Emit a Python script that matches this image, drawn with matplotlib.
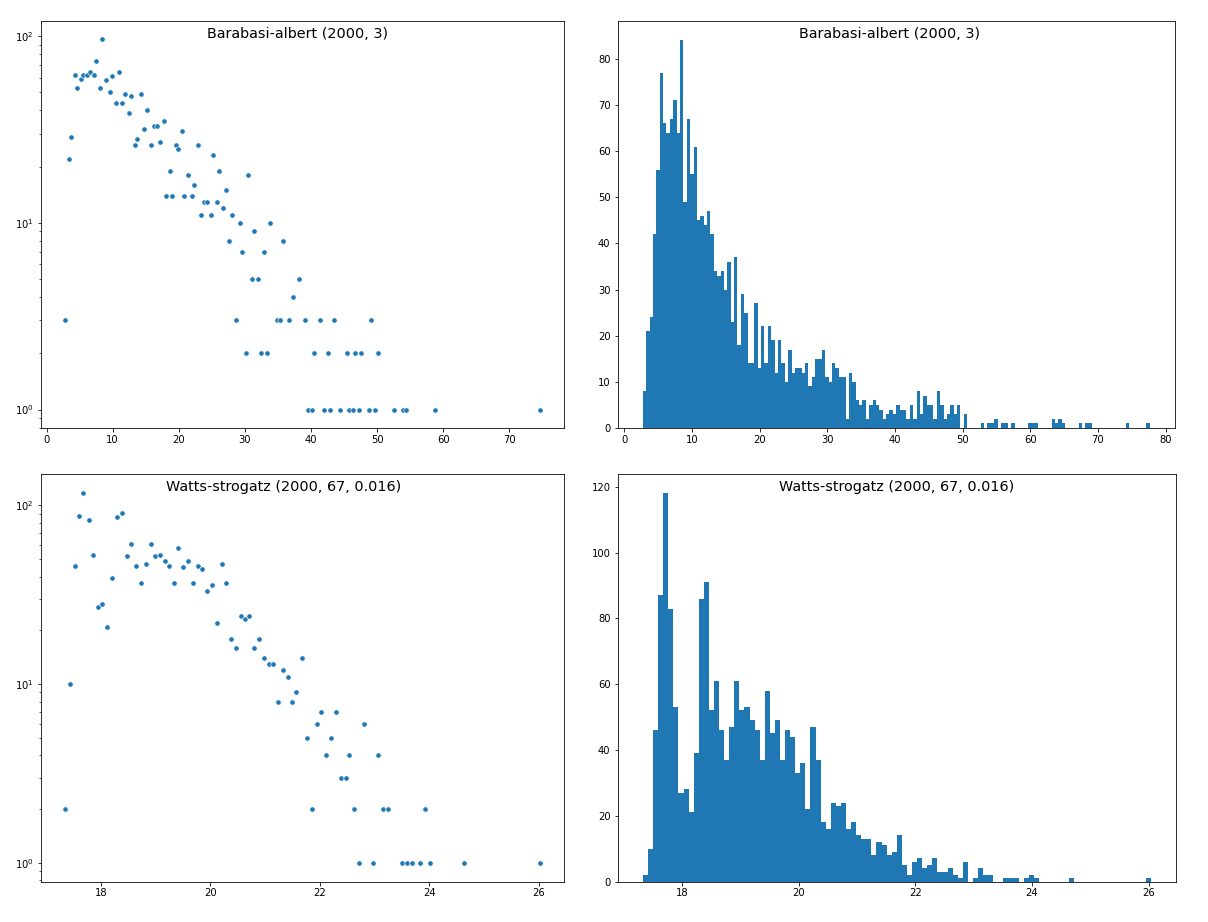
import numpy as np
import matplotlib
matplotlib.use('Agg')
import matplotlib.pyplot as plt

# ---------------- data ----------------
titles = ["Barabasi-albert (2000, 3)", "Watts-strogatz (2000, 67, 0.016)"]

ba_scatter_x = [2.76, 3.37, 3.72, 4.27, 4.67, 5.22, 5.58, 6.13, 6.53, 7.14,
                7.49, 8.04, 8.44, 9.00, 9.55, 9.95, 10.50, 10.90, 11.46, 11.86,
                12.41, 12.76, 13.37, 13.72, 14.27, 14.67, 15.23, 15.78, 16.18, 16.73,
                17.14, 17.69, 18.04, 18.64, 18.99, 19.55, 19.95, 20.50, 20.85, 21.40,
                21.96, 22.36, 22.91, 23.32, 23.87, 24.27, 24.83, 25.17, 25.78, 26.13,
                26.68, 27.08, 27.63, 28.03, 28.59, 29.19, 29.54, 30.10, 30.50, 31.05,
                31.45, 32.00, 32.36, 32.96, 33.31, 33.87, 34.82, 35.37, 35.77, 36.73,
                37.28, 38.24, 39.14, 39.55, 40.10, 40.45, 41.40, 41.95, 42.56, 42.91,
                43.52, 44.42, 45.37, 45.72, 46.28, 46.68, 47.23, 47.63, 48.74, 49.14,
                49.74, 50.09, 52.56, 53.86, 54.42, 58.74, 74.66]
ba_scatter_y = [3, 22, 29, 62, 53, 59, 62, 62, 64, 62,
                74, 53, 96, 58, 50, 61, 44, 64, 44, 49,
                39, 48, 26, 28, 49, 32, 40, 26, 33, 33,
                27, 35, 14, 19, 14, 26, 25, 31, 14, 18,
                14, 16, 26, 11, 13, 13, 11, 23, 13, 19,
                12, 15, 8, 11, 3, 10, 7, 2, 18, 5,
                9, 5, 2, 7, 2, 10, 3, 3, 8, 3,
                4, 5, 3, 1, 1, 2, 3, 1, 2, 1,
                3, 1, 2, 1, 1, 2, 1, 2, 1, 3,
                1, 2, 1, 1, 1, 1, 1]

ba_hist_range = (2.72, 77.65)
ba_hist_counts = [8, 21, 24, 42, 56, 77, 66, 64, 67, 71,
                  64, 84, 49, 67, 55, 61, 45, 46, 44, 47,
                  42, 34, 33, 34, 30, 36, 23, 37, 18,
                  29, 25, 14, 14, 27, 13, 22, 14, 22, 19, 12, 19, 14, 10, 17, 12,
                  13, 13, 12, 14, 9, 11, 15, 15, 17, 11, 10, 14, 13, 11, 11, 2, 12, 10,
                  6, 5, 6, 2, 5, 6, 5, 4, 2,
                  3, 4, 3, 5, 4, 4, 2, 5, 2, 8, 3, 7, 5, 5, 2, 8, 5, 2, 3, 5, 3, 5, 0, 3,
                  0, 0, 0, 0,
                  1, 0, 1, 1, 2, 0, 1, 1, 0, 1,
                  0, 0, 0, 0, 1, 1, 1, 0, 0, 0,
                  0, 2, 1, 2, 1, 0, 0, 0, 0, 1,
                  0, 1, 1, 0, 0, 0, 0, 0, 0, 0,
                  0, 0, 0, 1, 0, 0, 0, 0, 0, 1]

ws_scatter_x = [17.336, 17.427, 17.519, 17.590, 17.677, 17.774, 17.860, 17.951, 18.024, 18.115,
                18.206, 18.297, 18.389, 18.480, 18.547, 18.638, 18.730, 18.820, 18.912, 18.980,
                19.07, 19.16, 19.25, 19.34, 19.41, 19.50, 19.59, 19.68, 19.77, 19.85,
                19.94, 20.03, 20.12, 20.21, 20.28, 20.37, 20.46, 20.55, 20.64, 20.71,
                20.80, 20.89, 20.98, 21.07, 21.14, 21.23, 21.32, 21.41, 21.50, 21.57,
                21.67, 21.77, 21.86, 21.95, 22.02, 22.11, 22.20, 22.29, 22.38, 22.47,
                22.54, 22.63, 22.72, 22.81, 22.98, 23.07, 23.16, 23.25, 23.50, 23.59,
                23.68, 23.84, 23.93, 24.02, 24.64, 26.03]
ws_scatter_y = [2, 10, 46, 87, 118, 83, 53, 27, 28, 21,
                39, 86, 91, 52, 61, 46, 37, 47, 61, 52,
                53, 49, 46, 37, 58, 45, 49, 37, 46, 44,
                33, 36, 22, 47, 37, 18, 16, 24, 23, 24,
                16, 18, 14, 13, 13, 8, 12, 11, 8, 9,
                14, 5, 2, 6, 7, 4, 5, 7, 3, 3,
                4, 2, 1, 6, 1, 4, 2, 2, 1, 1,
                1, 1, 2, 1, 1, 1]

ws_hist_range = (17.324, 26.034)
ws_hist_counts = [2, 10, 46, 87, 118, 83, 53, 27, 28, 21,
                  39, 86, 91, 52, 61, 46, 37, 47, 61, 52,
                  53, 49, 46, 37, 58, 45, 49, 37, 46, 44,
                  33, 36, 22, 47, 37, 18, 16, 24, 23, 24,
                  16, 18, 14, 13, 13, 8, 12, 11, 8, 9,
                  14, 5, 2, 6, 7, 4, 5, 7, 3, 3,
                  4, 2, 1, 6, 0, 1, 4, 2, 2, 0,
                  0, 1, 1, 1, 0, 1, 2, 1, 0, 0,
                  0, 0, 0, 0, 1, 0, 0, 0, 0, 0,
                  0, 0, 0, 0, 0, 0, 0, 0, 0, 1]

# ---------------- figure ----------------
W, H = 1208, 922
DPI = 72
fig = plt.figure(figsize=(W / DPI, H / DPI), dpi=DPI)
fig.patch.set_facecolor('white')


def ax_at(x0, y0, x1, y1):
    return fig.add_axes([x0 / W, 1 - y1 / H, (x1 - x0) / W, (y1 - y0) / H])


ax_tl = ax_at(41, 21, 564, 428)
ax_tr = ax_at(617.5, 21, 1175, 428)
ax_bl = ax_at(41, 474, 564, 881.5)
ax_br = ax_at(617.5, 474, 1176, 881.5)

C0 = '#1f77b4'
TITLE_Y = 1 - 17 / 407
TITLE_SIZE = 14.4


def scatter_panel(ax, xs, ys, title, tx=0.5):
    ax.scatter(xs, ys, s=28, color=C0, edgecolor='white', linewidths=0.6, zorder=3)
    ax.set_yscale('log')
    ax.set_title(title, x=tx, y=TITLE_Y, pad=0, fontsize=TITLE_SIZE)


def hist_panel(ax, counts, rng, title, tx=0.5):
    edges = np.linspace(rng[0], rng[1], len(counts) + 1)
    centers = 0.5 * (edges[:-1] + edges[1:])
    ax.hist(centers, bins=edges, weights=counts, color=C0)
    ax.set_title(title, x=tx, y=TITLE_Y, pad=0, fontsize=TITLE_SIZE)


scatter_panel(ax_tl, ba_scatter_x, ba_scatter_y, titles[0], tx=0.49)
hist_panel(ax_tr, ba_hist_counts, ba_hist_range, titles[0], tx=0.488)
scatter_panel(ax_bl, ws_scatter_x, ws_scatter_y, titles[1], tx=0.464)
hist_panel(ax_br, ws_hist_counts, ws_hist_range, titles[1], tx=0.5)

for ax in (ax_tl, ax_tr, ax_bl, ax_br):
    ax.tick_params(labelsize=10)

fig.savefig('out.png', dpi=DPI)
